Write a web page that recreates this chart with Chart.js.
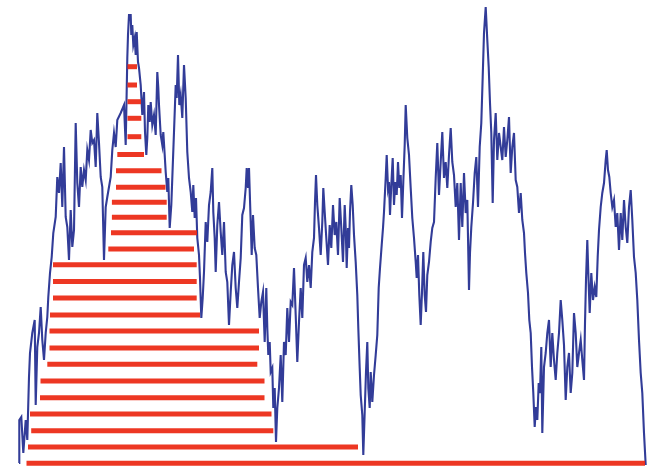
<!DOCTYPE html>
<html>
<head>
<meta charset="utf-8">
<script src="https://cdn.jsdelivr.net/npm/chart.js@4/dist/chart.umd.min.js"></script>
<style>
  html, body { margin: 0; padding: 0; background: #ffffff; }
  #wrap { width: 658px; height: 466px; position: relative; }
</style>
</head>
<body>
<div id="wrap"><canvas id="c"></canvas></div>
<script>
// Walk path: horizontal step position and height at that step
const stepX = [
  19,19.3,21.3,23.3,25.7,27.3,29,30,32.3,34.7,35.7,37.3,39,40.7,42.3,44,45.7,47.3,48.3,50,
  51.7,53.3,55.7,57.3,59,60.7,62.3,64,65.7,67.3,69,70.7,72.3,74,75.7,77.3,79,80.7,82.3,84,
  85.7,87.3,89,90.7,92.3,94,95.7,97.3,99,100.7,102.3,104,105.7,107.3,110.7,112.3,114,115.7,117.3,120.7,
  124,125.7,127.3,128,129,130.7,131.3,132.3,133.3,134.7,135.7,136.7,138,139,140.7,142.3,144,145,146.3,147.3,
  148.3,149.7,150.7,152.3,154,155.7,157.3,158.3,159,160.7,162.3,163.3,164.7,165.7,167.3,168.3,169.7,171.3,172.3,174,
  175.7,176.7,178,179.3,180.7,182.3,184,185.7,186.7,187.3,189,190.7,192.3,193.3,194.7,196,197.3,199,200,201.3,
  202.7,204,205.7,207.3,209,210.7,212.3,213.3,214.7,215.7,217.3,219,220.7,222.3,224,225.7,227.3,229,230.7,232.3,
  234,235.7,237.3,239,240.7,242.3,244,245.7,246.7,248,249,250.7,251.7,253,254.7,256.3,258,259.7,261.3,263,
  264.7,266.3,267.3,268.3,269.7,270.7,272.3,273.3,274.7,276,277.3,279,280.7,282.3,284,285.7,287.3,289,290.7,292.3,
  294,295.7,297.3,299,300.7,302.3,304,305.7,307.3,309,310.7,312.3,314,315,316,317.3,319,320.7,322.3,323.3,
  324.7,326.3,328,329.7,331.3,333,334.7,336.3,338,339.7,341.3,343,344.7,345.7,346.7,348,349,350,351.3,352.7,
  354,355.7,357.3,358.3,359.7,360.7,362.3,363.3,364.7,366,367.3,368.3,369.7,370.7,372.3,374,375.7,377.3,378.7,380,
  381.7,383,384,385.7,386.7,388,389,390,391.3,392.7,394,395.3,396.7,398,399.3,400.7,402,403.3,404.7,405.7,
  407.3,409,410.7,412.3,414,415.7,416.7,418,419.3,420.7,422,423.3,424.7,426,427.3,429,430.7,432.3,434,435.7,
  437.3,439,440.7,442.3,444,445.7,447.3,449,450.7,452.3,454,455.7,457.3,459,460.7,462.3,464,465.7,467.3,469,
  470,471.3,473,474.7,476.3,478,479.7,481.3,482.7,484,485.7,487.3,488.7,490,491.3,492.7,494,495.7,497.3,499,
  500.7,502.3,504,505.7,507.3,509,510.7,512.3,514,515.7,517.3,519,520.7,522.3,524,525,526.3,528,529.3,530.7,
  532,533.3,534.7,536,537.3,538.7,540,541.3,542.3,544,545.7,547.3,549,550.7,552.3,554,555.7,557.3,559,560.7,
  562.3,564,565.7,567.3,569,570.7,572.3,574,575.7,577.3,579,580.7,582.3,584,585,586,587.3,588.3,589.7,591.3,
  593,594.7,596.3,597.7,599,600.7,602.3,604,605.7,606.7,608,609.3,610.7,612.3,614,615.7,617.3,619,620.7,622.3,
  624,625.7,627.3,629,630.7,632.3,634,635.7,637.3,639,640.7,642.3,644,645.7
];
const levelY = [
  3,46,49,13,46,26,89,113,133,146,61,119,133,159,126,106,133,149,169,193,
  209,233,249,289,273,303,259,319,249,239,206,256,219,236,343,283,259,299,279,296,
  286,316,306,336,323,326,299,353,323,289,279,206,259,269,289,316,333,319,346,353,
  361,321,408,431,451,451,431,441,421,428,411,434,404,398,381,351,374,334,311,328,
  361,344,364,341,351,331,394,378,361,331,321,334,311,294,274,288,238,261,288,334,
  381,368,411,361,371,348,401,368,334,314,288,274,254,281,248,268,228,211,188,148,
  168,194,244,224,261,274,298,254,228,194,241,264,234,211,244,194,184,141,174,201,
  214,178,158,184,208,251,258,278,298,278,298,244,211,251,218,211,178,148,164,174,
  124,178,138,111,124,94,98,58,78,24,58,78,111,64,124,111,158,124,164,161,
  198,151,104,144,178,148,201,208,184,201,178,214,228,264,291,261,238,211,244,278,
  254,228,201,241,218,261,231,244,211,268,238,204,261,238,198,238,218,254,281,261,
  231,204,171,138,98,71,51,11,54,94,124,78,58,94,64,91,111,131,178,198,
  221,238,254,288,311,278,284,251,281,308,261,284,271,304,278,291,248,284,321,361,
  328,311,278,248,228,204,188,211,171,141,174,214,171,154,191,204,224,238,244,288,
  323,271,304,334,288,304,278,311,338,304,291,259,283,226,283,239,293,253,266,176,
  213,239,263,293,309,259,319,343,389,433,459,426,399,363,333,263,326,353,306,333,
  319,306,339,309,326,349,293,319,333,286,279,253,273,246,233,213,193,173,146,133,
  99,73,39,59,46,83,73,119,33,99,113,133,146,99,133,106,86,113,133,166,
  146,121,66,99,113,73,93,153,133,99,113,126,106,86,143,186,226,193,153,193,
  166,179,169,209,236,259,273,283,306,316,296,289,273,259,266,239,253,216,253,226,
  266,239,223,259,276,246,209,193,166,126,93,73,33,1
];

// Filled rungs: level of each rung with its left and right ends
const barLevels = [
  399.3,381,364.3,347.7,329.3,311.5,295.3,278.7,263.7,248.7,233.3,217,
  201.2,184.5,168,151,135,118,101.7,85,68.3,52,35.3,19,2.8
];
const barStarts = [
  127.5,127.5,127.5,127.5,127.5,117.3,116,116,111.9,111.9,111,108.3,
  53,53,53,50,49.5,49.5,47.3,40.5,40,30,31.2,28,26.5
];
const barEnds = [
  137,137,141,141.3,141.3,144,161.5,165.5,166.7,166.7,197,194,
  196.7,196.7,196.7,200,259,259,257.3,264.5,264.5,271.5,273.3,358,645
];

const walk = stepX.map((x, i) => ({ x: x, y: levelY[i] }));

const rungSets = barLevels.map((lv, i) => ({
  data: [{ x: barStarts[i], y: lv }, { x: barEnds[i], y: lv }],
  borderColor: 'rgba(236,40,18,0.93)',
  borderWidth: 5,
  borderCapStyle: 'butt',
  pointRadius: 0,
  order: 0,
  clip: false
}));

new Chart(document.getElementById('c'), {
  type: 'line',
  data: {
    datasets: [
      {
        data: walk,
        borderColor: '#323c98',
        borderWidth: 2.1,
        borderJoinStyle: 'miter',
        pointRadius: 0,
        tension: 0,
        order: 1,
        clip: false
      },
      ...rungSets
    ]
  },
  options: {
    responsive: true,
    maintainAspectRatio: false,
    animation: false,
    events: [],
    layout: { padding: 0 },
    plugins: { legend: { display: false }, tooltip: { enabled: false } },
    scales: {
      x: { type: 'linear', display: false, min: 0, max: 658 },
      y: { type: 'linear', display: false, min: 0, max: 466 }
    }
  }
});
</script>
</body>
</html>
